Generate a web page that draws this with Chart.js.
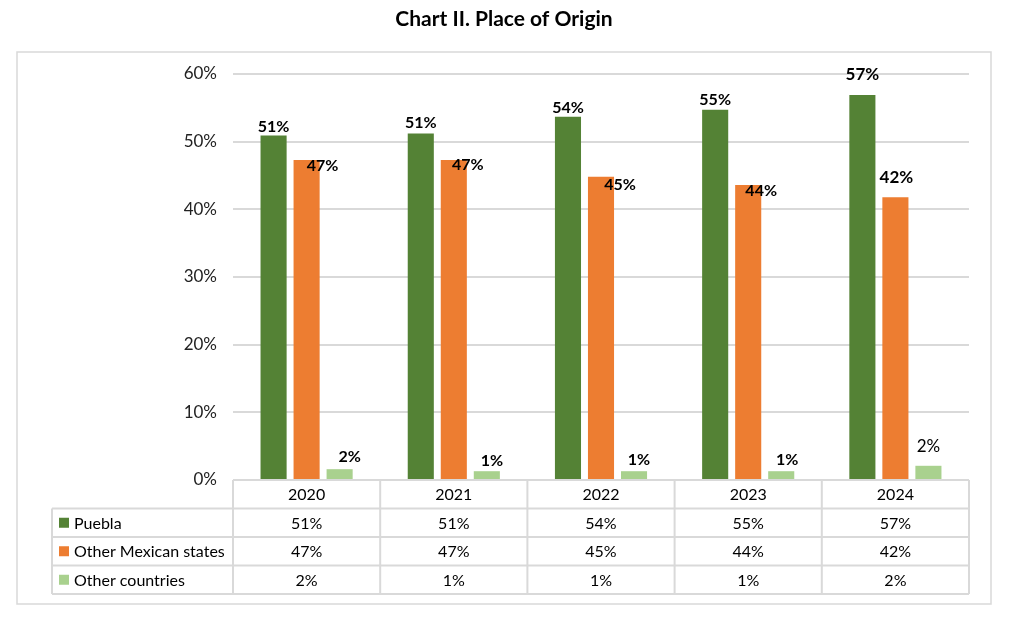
<!DOCTYPE html>
<html>
<head>
<meta charset="utf-8">
<script src="https://cdn.jsdelivr.net/npm/chart.js@4.4.1/dist/chart.umd.min.js"></script>
<style>
html,body{margin:0;padding:0;background:#fff;}
#wrap{width:1012px;height:618px;position:relative;}
</style>
</head>
<body>
<div id="wrap"><canvas id="c" width="1012" height="618"></canvas></div>
<script>
const TITLE = 'Chart II. Place of Origin';
const categories = ['2020', '2021', '2022', '2023', '2024'];
const seriesNames = ['Puebla', 'Other Mexican states', 'Other countries'];
const puebla = [50.9, 51.2, 53.7, 54.7, 56.9];
const otherStates = [47.3, 47.3, 44.8, 43.6, 41.8];
const otherCountries = [1.6, 1.3, 1.3, 1.3, 2.1];
const tableLabels = [
  ['51%', '51%', '54%', '55%', '57%'],
  ['47%', '47%', '45%', '44%', '42%'],
  ['2%', '1%', '1%', '1%', '2%']
];
const yTicks = [0, 10, 20, 30, 40, 50, 60];

const colors = ['#548235', '#ED7D31', '#A9D18E'];
const FONT = 'Lato, "Open Sans", sans-serif';

// label placement styles (offsets relative to bar top/centre)
const labelStyles = [
  [{dx:0,dy:-9,s:16,b:true},{dx:0,dy:-11,s:16,b:true},{dx:0,dy:-9,s:16,b:true},{dx:0,dy:-10,s:16,b:true},{dx:0,dy:-20,s:17,b:true}],
  [{dx:16,dy:6,s:16,b:true},{dx:14,dy:5,s:16,b:true},{dx:19,dy:8,s:16,b:true},{dx:13,dy:6,s:16,b:true},{dx:1,dy:-20,s:17,b:true}],
  [{dx:10,dy:-12,s:16,b:true},{dx:5,dy:-10,s:16,b:true},{dx:5,dy:-11,s:16,b:true},{dx:6,dy:-11,s:16,b:true},{dx:0,dy:-19,s:17,b:false}]
];

const decorPlugin = {
  id: 'decor',
  beforeDraw(chart) {
    const ctx = chart.ctx;
    ctx.save();
    ctx.fillStyle = '#fff';
    ctx.fillRect(0, 0, chart.width, chart.height);
    ctx.strokeStyle = '#d9d9d9';
    ctx.lineWidth = 1.5;
    ctx.strokeRect(17, 52, 974, 552);
    ctx.fillStyle = '#000';
    ctx.font = 'bold 21px ' + FONT;
    ctx.textAlign = 'center';
    ctx.textBaseline = 'middle';
    ctx.fillText(TITLE, 504, 19);
    ctx.restore();
  },
  afterDatasetsDraw(chart) {
    const ctx = chart.ctx;
    ctx.save();
    ctx.fillStyle = '#000';
    ctx.textAlign = 'center';
    ctx.textBaseline = 'middle';
    chart.data.datasets.forEach((ds, di) => {
      const meta = chart.getDatasetMeta(di);
      meta.data.forEach((bar, i) => {
        const st = labelStyles[di][i];
        ctx.font = (st.b ? 'bold ' : '') + st.s + 'px ' + FONT;
        ctx.fillText(tableLabels[di][i], bar.x + st.dx, bar.y + st.dy);
      });
    });
    ctx.restore();
  },
  afterDraw(chart) {
    const ctx = chart.ctx;
    const area = chart.chartArea;
    const xs = chart.scales.x;
    const n = categories.length;
    const w = (area.right - area.left) / n;
    const top = area.bottom;
    const rowH = 28.5;
    const leftX = 52;
    const bottom = top + rowH * 4;
    ctx.save();
    ctx.strokeStyle = '#d9d9d9';
    ctx.lineWidth = 2;
    ctx.beginPath();
    ctx.moveTo(area.left, top); ctx.lineTo(area.right, top);
    for (let r = 1; r <= 4; r++) {
      ctx.moveTo(leftX, top + rowH * r); ctx.lineTo(area.right, top + rowH * r);
    }
    ctx.moveTo(leftX, top + rowH); ctx.lineTo(leftX, bottom);
    for (let c = 0; c <= n; c++) {
      const x = area.left + w * c;
      ctx.moveTo(x, top); ctx.lineTo(x, bottom);
    }
    ctx.stroke();
    ctx.fillStyle = '#000';
    ctx.font = '16px ' + FONT;
    ctx.textBaseline = 'middle';
    ctx.textAlign = 'center';
    categories.forEach((c, i) => {
      const cx = xs.getPixelForValue(i);
      ctx.fillText(c, cx, top + rowH / 2 + 1);
      for (let r = 0; r < 3; r++) {
        ctx.fillText(tableLabels[r][i], cx, top + rowH * (r + 1.5) + 1);
      }
    });
    ctx.textAlign = 'left';
    seriesNames.forEach((s, r) => {
      const cy = top + rowH * (r + 1.5);
      ctx.fillStyle = colors[r];
      ctx.fillRect(59, cy - 5, 10, 10);
      ctx.fillStyle = '#000';
      ctx.fillText(s, 74, cy + 1);
    });
    ctx.restore();
  }
};

new Chart(document.getElementById('c'), {
  type: 'bar',
  data: {
    labels: categories,
    datasets: [
      { label: seriesNames[0], data: puebla, backgroundColor: colors[0] },
      { label: seriesNames[1], data: otherStates, backgroundColor: colors[1] },
      { label: seriesNames[2], data: otherCountries, backgroundColor: colors[2] }
    ]
  },
  options: {
    responsive: false,
    animation: false,
    devicePixelRatio: 1,
    layout: { padding: { left: 0, right: 43, top: 74, bottom: 138 } },
    datasets: { bar: { categoryPercentage: 0.673, barPercentage: 0.79 } },
    plugins: { legend: { display: false }, tooltip: { enabled: false }, title: { display: false } },
    scales: {
      x: { display: false },
      y: {
        min: 0, max: 60,
        afterFit(scale) { scale.width = 233; },
        afterBuildTicks(scale) { scale.ticks = yTicks.map(v => ({ value: v })); },
        border: { display: false },
        grid: { color: '#d9d9d9', lineWidth: 2, drawTicks: false },
        ticks: {
          padding: 16,
          color: '#222',
          font: { family: FONT, size: 17 },
          callback: v => v + '%'
        }
      }
    }
  },
  plugins: [decorPlugin]
});
</script>
</body>
</html>
